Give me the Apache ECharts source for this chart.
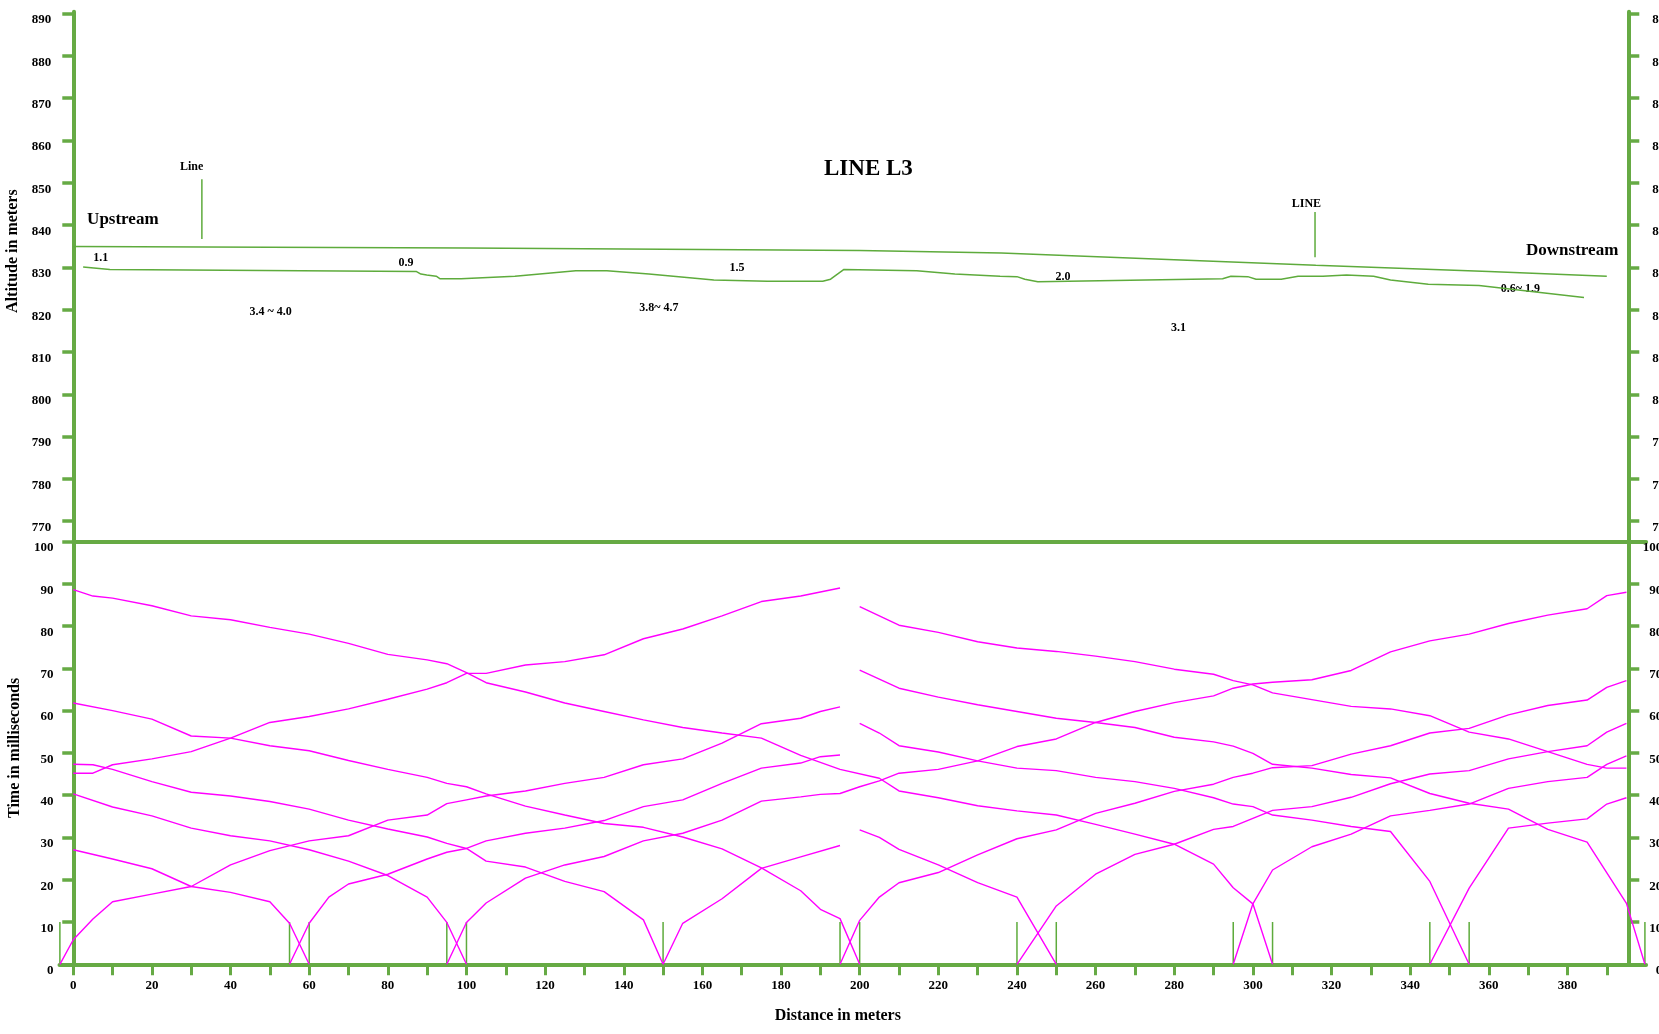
<!DOCTYPE html>
<html>
<head>
<meta charset="utf-8">
<script src="https://cdn.jsdelivr.net/npm/echarts@6/dist/echarts.min.js"></script>
<style>html,body{margin:0;padding:0;background:#fff;}#chart{width:1659px;height:1034px;}</style>
</head>
<body>
<div id="chart"></div>
<script>
// ---------- tick values ----------
const altitudeTicks = [770, 780, 790, 800, 810, 820, 830, 840, 850, 860, 870, 880, 890];
const distanceTicks = [0,10,20,30,40,50,60,70,80,90,100,110,120,130,140,150,160,170,180,190,200,210,220,230,240,250,260,270,280,290,300,310,320,330,340,350,360,370,380,390];
const distanceLabels = [0,20,40,60,80,100,120,140,160,180,200,220,240,260,280,300,320,340,360,380];

// ---------- top panel: river profile (distance m, altitude m) ----------
const surfaceLine = [[0,834.9],[100,834.6],[200,834.0],[236,833.4],[280,831.8],[316,830.5],[360,829.0],[390,827.9]];
const bedLine = [[2.5,830.1],[9.3,829.5],[87.3,829.0],[88.4,828.4],[89.9,828.2],[92.3,827.9],[93.3,827.3],[98.6,827.3],[112.3,827.9],[127.8,829.2],[135.7,829.2],[146.4,828.4],[162.9,827.0],[176.5,826.7],[190.6,826.7],[192.6,827.2],[196.0,829.5],[214.5,829.2],[224.2,828.4],[235.7,827.9],[240.0,827.8],[242.0,827.2],[245.3,826.6],[292.3,827.3],[294.4,827.9],[298.7,827.8],[300.8,827.2],[307.2,827.2],[311.5,827.9],[317.8,827.9],[323.8,828.2],[330.7,827.9],[335.0,827.0],[344.6,826.0],[357.5,825.7],[384.2,822.9]];
// crossing-line markers: [label, distance, bottom altitude, top altitude, label altitude, label distance]
const crossMarkers = [['Line', 32.7, 836.7, 850.8, 853.8, 30.1], ['LINE', 315.8, 832.4, 843.1, 845.1, 313.6]];
// depth annotations: [distance, altitude, text]
const depthNotes = [[7.0,832.2,'1.1'],[84.6,831.0,'0.9'],[168.8,829.8,'1.5'],[251.7,827.8,'2.0'],[50.2,819.5,'3.4 ~ 4.0'],[148.9,820.4,'3.8~ 4.7'],[281.1,815.6,'3.1'],[368.0,825.0,'0.6~ 1.9']];
const streamNotes = [[12.6,841.4,'Upstream'],[381.2,833.9,'Downstream']];

// ---------- bottom panel: first-arrival travel times (distance m, time ms) ----------
const shotPoints = [-3.4, 55, 60, 95, 100, 150, 195, 200, 240, 250, 295, 305, 345, 355, 399.7];
const shotMarkTime = 10;
const curveA = [[0,88.6],[5,87.1],[10,86.6],[20,84.8],[30,82.4],[40,81.5],[50,79.7],[60,78.1],[70,75.9],[80,73.3],[90,72.0],[95,71.1],[100,69.0],[105,66.6],[115,64.4],[125,61.8],[135,59.8],[145,57.8],[155,56.0],[165,54.7],[175,53.5],[185,49.4],[195,46.1],[205,44.0],[210,41.0],[220,39.4],[230,37.5],[240,36.3],[250,35.3],[260,33.1],[270,30.8],[280,28.4],[290,23.7],[295,18.1],[300,14.3],[305,0]];
const curveB = [[0,45.2],[5,45.2],[10,47.2],[20,48.6],[30,50.3],[40,53.5],[50,57.2],[60,58.6],[70,60.4],[80,62.7],[90,65.1],[95,66.6],[100,68.8],[105,68.8],[115,70.8],[125,71.6],[135,73.2],[145,77.0],[155,79.3],[165,82.4],[175,85.8],[185,87.1],[195,89.0]];
const curveC = [[0,61.8],[10,60.0],[20,58.0],[30,54.0],[40,53.5],[50,51.7],[60,50.5],[70,48.2],[80,46.1],[90,44.2],[95,42.8],[100,42.0],[105,40.3],[115,37.4],[125,35.3],[135,33.3],[145,32.4],[155,30.1],[165,27.3],[175,22.8],[185,17.4],[190,13.0],[195,10.8],[200,0]];
const curveD = [[0,47.3],[5,47.2],[10,46.1],[20,43.2],[30,40.7],[40,39.8],[50,38.5],[60,36.7],[70,34.1],[80,32.0],[90,30.1],[95,28.6],[100,27.4],[105,24.4],[115,23.0],[125,19.6],[135,17.2],[145,10.5],[150,0]];
const curveE = [[0,40.3],[10,37.2],[20,35.1],[30,32.2],[40,30.4],[50,29.2],[60,27.1],[70,24.4],[80,21.0],[90,15.9],[95,9.9],[100,0]];
const curveF = [[0,27.1],[10,24.9],[20,22.6],[30,18.4],[40,17.0],[50,14.8],[55,9.7],[60,0]];
const curveG = [[-3.4,0],[0,5.8],[5,10.7],[10,14.8],[20,16.6],[30,18.4],[40,23.5],[50,26.9],[60,29.2],[70,30.4],[80,34.1],[90,35.3],[95,38.0],[100,38.9],[105,39.8],[115,41.0],[125,42.8],[135,44.2],[145,47.2],[155,48.6],[165,52.3],[175,56.9],[185,58.2],[190,59.8],[195,60.9]];
const curveH = [[55,0],[60,9.7],[65,15.9],[70,19.0],[80,21.3],[90,24.9],[95,26.5],[100,27.4],[105,29.2],[115,31.0],[125,32.2],[135,34.0],[145,37.3],[155,38.9],[165,42.8],[175,46.4],[185,47.6],[190,49.1],[195,49.5]];
const curveI = [[95,0],[100,9.9],[105,14.5],[115,20.4],[125,23.5],[135,25.5],[145,29.2],[155,31.0],[165,34.1],[175,38.6],[185,39.6],[190,40.2],[195,40.4],[200,42.0],[205,43.4],[210,45.2],[220,46.1],[230,48.1],[240,51.5],[250,53.3],[260,57.2],[270,59.8],[280,61.9],[290,63.5],[295,65.3],[300,66.3],[305,66.7],[315,67.3],[325,69.5],[335,73.9],[345,76.5],[355,78.1],[365,80.6],[375,82.6],[385,84.1],[390,87.2],[395,88.0]];
const curveK = [[150,0],[155,9.7],[165,15.5],[175,22.7],[185,25.4],[195,28.1]];
const curveL = [[195,0],[200,10.4],[205,15.9],[210,19.3],[220,21.7],[230,25.9],[240,29.7],[250,31.8],[260,35.7],[270,38.1],[280,40.9],[290,42.6],[295,44.2],[300,45.2],[305,46.5],[315,47.0],[325,49.7],[335,51.7],[345,54.7],[355,55.8],[365,59.0],[375,61.2],[385,62.5],[390,65.5],[395,67.1]];
const curveM1 = [[200,84.6],[210,80.2],[220,78.5],[230,76.3],[240,74.8],[250,74.0],[260,72.9],[270,71.6],[280,69.8],[290,68.6],[295,67.1],[300,66.1],[305,64.2],[315,62.6],[325,61.0],[335,60.4],[345,58.8],[355,54.9],[365,53.3],[375,50.3],[385,47.3],[390,46.4],[395,46.4]];
const curveM2 = [[200,69.6],[210,65.3],[220,63.2],[230,61.4],[240,59.8],[250,58.2],[260,57.2],[270,56.0],[280,53.7],[290,52.6],[295,51.6],[300,49.9],[305,47.3],[315,46.4],[325,44.9],[335,44.1],[345,40.4],[355,38.1],[365,36.7],[375,31.9],[385,28.9],[395,14.4],[399.7,0]];
const curveM3 = [[200,57.0],[205,54.7],[210,51.7],[220,50.2],[230,48.1],[240,46.4],[250,45.8],[260,44.2],[270,43.2],[280,41.6],[290,39.4],[295,37.9],[300,37.3],[305,35.3],[315,34.1],[325,32.6],[335,31.4],[345,19.6],[355,0]];
const curveM4 = [[200,31.8],[205,30.0],[210,27.2],[220,23.5],[230,19.3],[240,15.9],[250,0]];
const curveN = [[240,0],[250,13.8],[260,21.3],[270,26.0],[280,28.4],[290,31.9],[295,32.6],[300,34.5],[305,36.4],[315,37.3],[325,39.5],[335,42.7],[345,45.0],[355,45.8],[365,48.6],[375,50.3],[385,51.7],[390,54.9],[395,57.0]];
const curveO = [[295,0],[300,14.3],[305,22.3],[315,27.8],[325,30.8],[335,35.1],[345,36.4],[355,37.9],[365,41.6],[375,43.2],[385,44.2],[390,47.3],[395,49.3]];
const curveP = [[345,0],[355,18.0],[365,32.2],[375,33.4],[385,34.4],[390,37.9],[395,39.4]];
const travelCurves = [curveA, curveB, curveC, curveD, curveE, curveF, curveG, curveH, curveI, curveK, curveL, curveM1, curveM2, curveM3, curveM4, curveN, curveO, curveP];

// ---------- styles ----------
const GREEN = '#66aa44';
const LINE_GREEN = '#5eab3c';
const MAGENTA = '#ff00ff';
const FONT = 'Liberation Serif';
const tickLabel = { fontFamily: FONT, fontWeight: 'bold', fontSize: 13, color: '#000' };

const chart = echarts.init(document.getElementById('chart'), null, { renderer: 'canvas' });

function textSeries(data, fontSize) {
  return { type: 'scatter', xAxisIndex: 0, yAxisIndex: 0, silent: true, symbol: 'circle', symbolSize: 1,
    itemStyle: { color: 'rgba(255,255,255,0)' },
    data: data,
    label: { show: true, position: 'inside', formatter: p => p.value[2],
      fontFamily: FONT, fontSize: fontSize, fontWeight: 'bold', color: '#000', opacity: 1 } };
}

const series = [];
// top panel
series.push({ type: 'line', xAxisIndex: 0, yAxisIndex: 0, data: surfaceLine, symbol: 'none', silent: true,
  lineStyle: { color: LINE_GREEN, width: 1.5 } });
series.push({ type: 'line', xAxisIndex: 0, yAxisIndex: 0, data: bedLine, symbol: 'none', silent: true,
  lineStyle: { color: LINE_GREEN, width: 1.5 } });
const stemData = [];
crossMarkers.forEach(m => { stemData.push([m[1], m[2]], [m[1], m[3]], [m[1], '-']); });
series.push({ type: 'line', xAxisIndex: 0, yAxisIndex: 0, data: stemData, symbol: 'none', silent: true,
  connectNulls: false, lineStyle: { color: LINE_GREEN, width: 1.5 } });
series.push(textSeries(crossMarkers.map(m => [m[5], m[4], m[0]]), 12));
series.push(textSeries(depthNotes, 12));
series.push(textSeries(streamNotes, 17));

// bottom panel
const shotData = [];
shotPoints.forEach(x => { shotData.push([x, 0], [x, shotMarkTime], [x, '-']); });
series.push({ type: 'line', xAxisIndex: 1, yAxisIndex: 2, data: shotData, symbol: 'none', silent: true,
  connectNulls: false, lineStyle: { color: LINE_GREEN, width: 1.5 } });
travelCurves.forEach(c => {
  series.push({ type: 'line', xAxisIndex: 1, yAxisIndex: 2, data: c, symbol: 'none', silent: true,
    lineStyle: { color: MAGENTA, width: 1.4 } });
});

const option = {
  animation: false,
  backgroundColor: '#ffffff',
  title: { text: 'LINE L3', left: 819, top: 153,
    textStyle: { fontFamily: FONT, fontWeight: 'bold', fontSize: 23, color: '#000' } },
  grid: [
    { left: 73.3, top: 11.8, width: 1572.8, height: 529.7, outerBoundsMode: 'none', containLabel: false },
    { left: 59.5, top: 541.5, width: 1586.6, height: 422.8, outerBoundsMode: 'none', containLabel: false }
  ],
  xAxis: [
    { gridIndex: 0, type: 'value', min: 0, max: 400,
      axisLine: { show: true, onZero: false, lineStyle: { color: GREEN, width: 4 } },
      axisTick: { show: false }, axisLabel: { show: false }, splitLine: { show: false } },
    { gridIndex: 1, type: 'value', min: -3.5, max: 400,
      axisLine: { show: true, onZero: false, lineStyle: { color: GREEN, width: 4 } },
      axisTick: { show: true, customValues: distanceTicks, length: 11, lineStyle: { color: GREEN, width: 3 } },
      axisLabel: Object.assign({ customValues: distanceLabels, margin: 15 }, tickLabel),
      splitLine: { show: false },
      name: 'Distance in meters', nameLocation: 'middle', nameGap: 44,
      nameTextStyle: { fontFamily: FONT, fontWeight: 'bold', fontSize: 16, color: '#000', padding: [0, 30, 0, 0] } }
  ],
  yAxis: [
    { gridIndex: 0, type: 'value', min: 765.2, max: 890.4, position: 'left',
      axisLine: { show: true, onZero: false, lineStyle: { color: GREEN, width: 4 } },
      axisTick: { show: true, customValues: altitudeTicks, length: 11, lineStyle: { color: GREEN, width: 3.5 } },
      axisLabel: Object.assign({ customValues: altitudeTicks, margin: 22, verticalAlign: 'top' }, tickLabel),
      splitLine: { show: false },
      name: 'Altitude in meters', nameLocation: 'middle', nameGap: 50, nameRotate: 90,
      nameTextStyle: { fontFamily: FONT, fontWeight: 'bold', fontSize: 16, color: '#000', padding: [0, 0, 0, 51] } },
    { gridIndex: 0, type: 'value', min: 765.2, max: 890.4, position: 'right', offset: -17.8,
      axisLine: { show: true, onZero: false, lineStyle: { color: GREEN, width: 4 } },
      axisTick: { show: true, customValues: altitudeTicks, length: 11, lineStyle: { color: GREEN, width: 3.5 } },
      axisLabel: Object.assign({ customValues: altitudeTicks, margin: 24, verticalAlign: 'top', align: 'left' }, tickLabel),
      splitLine: { show: false } },
    { gridIndex: 1, type: 'value', min: 0, max: 100, interval: 10, position: 'left',
      axisLine: { show: true, onZero: true, lineStyle: { color: GREEN, width: 4 } },
      axisTick: { show: true, length: 11, lineStyle: { color: GREEN, width: 3.5 } },
      axisLabel: Object.assign({ margin: 6, verticalAlign: 'top' }, tickLabel),
      splitLine: { show: false },
      name: 'Time in milliseconds', nameLocation: 'middle', nameGap: 29, nameRotate: 90,
      nameTextStyle: { fontFamily: FONT, fontWeight: 'bold', fontSize: 16, color: '#000', padding: [0, 0, 0, 10] } },
    { gridIndex: 1, type: 'value', min: 0, max: 100, interval: 10, position: 'right', offset: -17.8,
      axisLine: { show: true, onZero: false, lineStyle: { color: GREEN, width: 4 } },
      axisTick: { show: true, length: 11, lineStyle: { color: GREEN, width: 3.5 } },
      axisLabel: Object.assign({ margin: 34, verticalAlign: 'top', align: 'right' }, tickLabel),
      splitLine: { show: false } }
  ],
  series: series
};
chart.setOption(option);
</script>
</body>
</html>
